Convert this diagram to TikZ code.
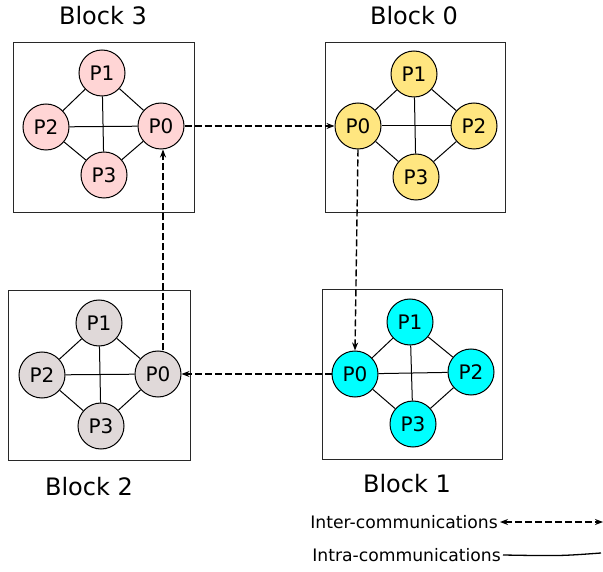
\documentclass[tikz,border=0pt]{standalone}
\usepackage{fontspec}
\setmainfont{DejaVu Sans}
\usetikzlibrary{arrows.meta}
\definecolor{cpink}{RGB}{255,213,213}
\definecolor{cyel}{RGB}{255,230,128}
\definecolor{ccyan}{RGB}{0,255,255}
\definecolor{cgray}{RGB}{224,217,217}
\definecolor{cbox}{RGB}{40,40,40}
\begin{document}
\begin{tikzpicture}[x=1pt,y=-1pt,
  proc/.style={circle,draw=black,line width=1pt,minimum size=46pt,inner sep=0pt,font=\fontsize{20}{22}\selectfont},
  blockbox/.style={draw=cbox,line width=1.2pt},
  blabel/.style={font=\fontsize{24}{26}\selectfont,inner sep=0pt},
  intra/.style={draw=black,line width=1pt},
  inter/.style={draw=black,line width=1.4pt,dash pattern=on 7pt off 3pt,-{Stealth[length=8pt,width=6pt]}},
  legtext/.style={font=\fontsize{17.2}{19}\selectfont,inner sep=0pt,anchor=east}
]
\useasboundingbox (0,0) rectangle (603,572);
\fill[white] (0,0) rectangle (603,572);

% Block boxes
\node[blockbox,minimum width=181pt,minimum height=170pt,anchor=north west] (box3) at (13,42) {};
\node[blockbox,minimum width=180pt,minimum height=170pt,anchor=north west] (box0) at (325,42) {};
\node[blockbox,minimum width=182pt,minimum height=170pt,anchor=north west] (box2) at (8,290) {};
\node[blockbox,minimum width=180pt,minimum height=170pt,anchor=north west] (box1) at (322,289) {};

% Labels
\node[blabel] (l3) at (103,16) {Block 3};
\node[blabel] (l0) at (414,16) {Block 0};
\node[blabel] (l2) at (89,487) {Block 2};
\node[blabel] (l1) at (407,484) {Block 1};

% Block 3
\node[proc,fill=cpink] (a1) at (102,73) {P1};
\node[proc,fill=cpink] (a2) at (46,127) {P2};
\node[proc,fill=cpink] (a0) at (161,126) {P0};
\node[proc,fill=cpink] (a3) at (104,175) {P3};
% Block 0
\node[proc,fill=cyel] (b1) at (414,74) {P1};
\node[proc,fill=cyel] (b0) at (358,126) {P0};
\node[proc,fill=cyel] (b2) at (474,126) {P2};
\node[proc,fill=cyel] (b3) at (416,177) {P3};
% Block 1
\node[proc,fill=ccyan] (c1) at (410,322) {P1};
\node[proc,fill=ccyan] (c0) at (355,374) {P0};
\node[proc,fill=ccyan] (c2) at (471,372) {P2};
\node[proc,fill=ccyan] (c3) at (413,424) {P3};
% Block 2
\node[proc,fill=cgray] (d1) at (99,323) {P1};
\node[proc,fill=cgray] (d2) at (42,375) {P2};
\node[proc,fill=cgray] (d0) at (158,374) {P0};
\node[proc,fill=cgray] (d3) at (101,426) {P3};

% Intra-communications
\foreach \b in {a,b,c,d}{
  \draw[intra] (\b1) -- (\b2);
  \draw[intra] (\b1) -- (\b0);
  \draw[intra] (\b3) -- (\b2);
  \draw[intra] (\b3) -- (\b0);
  \draw[intra] (\b1) -- (\b3);
  \draw[intra] (\b2) -- (\b0);
}

% Inter-communications
\draw[inter] (a0.east) -- (b0.west);
\draw[inter] (b0.south) -- (c0.north);
\draw[inter] (c0.west) -- (d0.east);
\draw[inter] ([xshift=5pt]d0.north) -- ([xshift=2pt]a0.south);

% Legend
\node[legtext] (t1) at (498,522) {Inter-communications};
\node[legtext] (t2) at (501,555) {Intra-communications};
\coordinate (e1) at (603,522);
\coordinate (e2) at (601,553);
\draw[draw=black,line width=1.4pt,dash pattern=on 7pt off 3pt,{Stealth[length=8pt,width=6pt]}-{Stealth[length=8pt,width=6pt]}] ([xshift=2pt]t1.east) -- (e1);
\draw[intra,line width=1.3pt] ([xshift=2pt]t2.east) .. controls (560,556) .. (e2);
\end{tikzpicture}
\end{document}
